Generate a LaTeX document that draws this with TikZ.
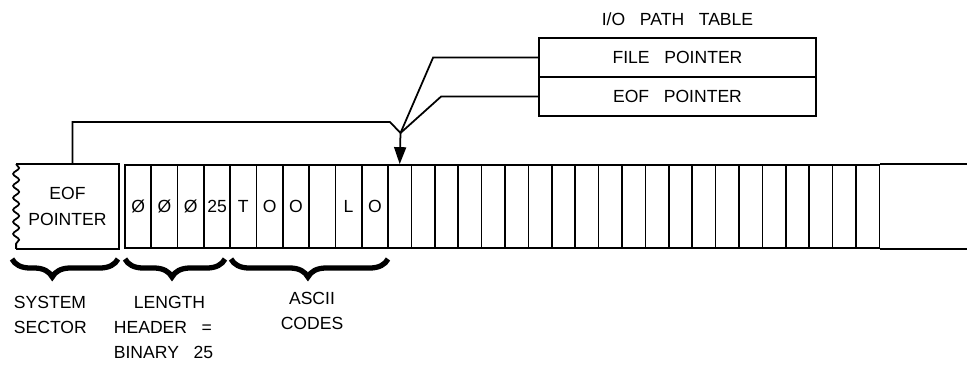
\documentclass[tikz,border=0pt]{standalone}
\usepackage{fontspec}
\setmainfont{Liberation Sans}[WordSpace=3]
\usepackage{tikz}
\usetikzlibrary{positioning,arrows.meta,decorations.pathmorphing,decorations.pathreplacing}

\newcommand{\px}{0.02cm}

\tikzset{
    cell/.style={draw, minimum width=26.3*\px, minimum height=83*\px, inner sep=0pt},
    widecell/.style={draw, minimum width=23.4*\px, minimum height=83*\px, inner sep=0pt},
    rowbox/.style={draw, minimum width=277*\px, minimum height=39*\px, inner sep=0pt},
    brc/.style={decorate, decoration={brace, mirror, amplitude=0.36cm}, line width=3pt},
    lbl/.style={align=left, anchor=north west, inner sep=0pt}
}

\begin{document}
\begin{tikzpicture}[x=\px, y=-\px, >={Triangle[length=0.34cm, width=0.24cm]}, line width=1pt,
    font=\fontsize{10}{14.4}\selectfont]
    \useasboundingbox (0,0) rectangle (967,366);

    % system sector
    \node[align=center, minimum width=101*\px, minimum height=83*\px] (sys) at (67.5,206.5) {EOF\\POINTER};
    \draw[decorate, decoration={snake, amplitude=0.06cm, segment length=0.24cm}]
        (sys.north west) -- (sys.south west);
    \draw (sys.north west) -- (sys.north east) -- (sys.south east) -- (sys.south west);

    % file cells
    \foreach \i/\t in {1/Ø,2/Ø,3/Ø,4/25,5/T,6/O,7/O,8/{},9/L,10/O}
        \node[cell] (c\i) at ({125+26.3*(\i-0.5)},206.5) {\t};
    \foreach \j in {11,...,31}
        \node[widecell] (c\j) at ({388+23.4*(\j-10.5)},206.5) {};
    \draw (c31.north east) -- ++(88,0);
    \draw (c31.south east) -- ++(88,0);

    % I/O path table
    \node (ttl) at (677.5,19) {I/O PATH TABLE};
    \node[rowbox] (filep) at (677.5,57.5) {FILE POINTER};
    \node[rowbox] (eofp) at (677.5,96.5) {EOF POINTER};

    \coordinate (jn) at (400.5,133);
    \draw ([xshift=0.1cm]sys.north) |- (390,122) -- (jn);
    \draw (filep.west) -- ++(-105,0) -- (jn);
    \draw (eofp.west) -- ++(-97,0) -- (jn);
    \draw[->] (jn) -- (c11.north);

    % braces
    \draw[brc, decoration={aspect=0.38}] (12,259) -- (118,259);
    \draw[brc, decoration={aspect=0.47}] (125,259) -- (225,259);
    \draw[brc, decoration={aspect=0.49}] (231,259) -- (388,259);

    \node[lbl] (syslbl) at (13,295) {SYSTEM\\SECTOR};
    \node[lbl] (lenlbl) at (113,295) {\hspace{0.4cm}LENGTH\\HEADER =\\BINARY 25};
    \node[align=center, anchor=north, inner sep=0pt] (asclbl) at (312,291) {ASCII\\CODES};
\end{tikzpicture}
\end{document}
